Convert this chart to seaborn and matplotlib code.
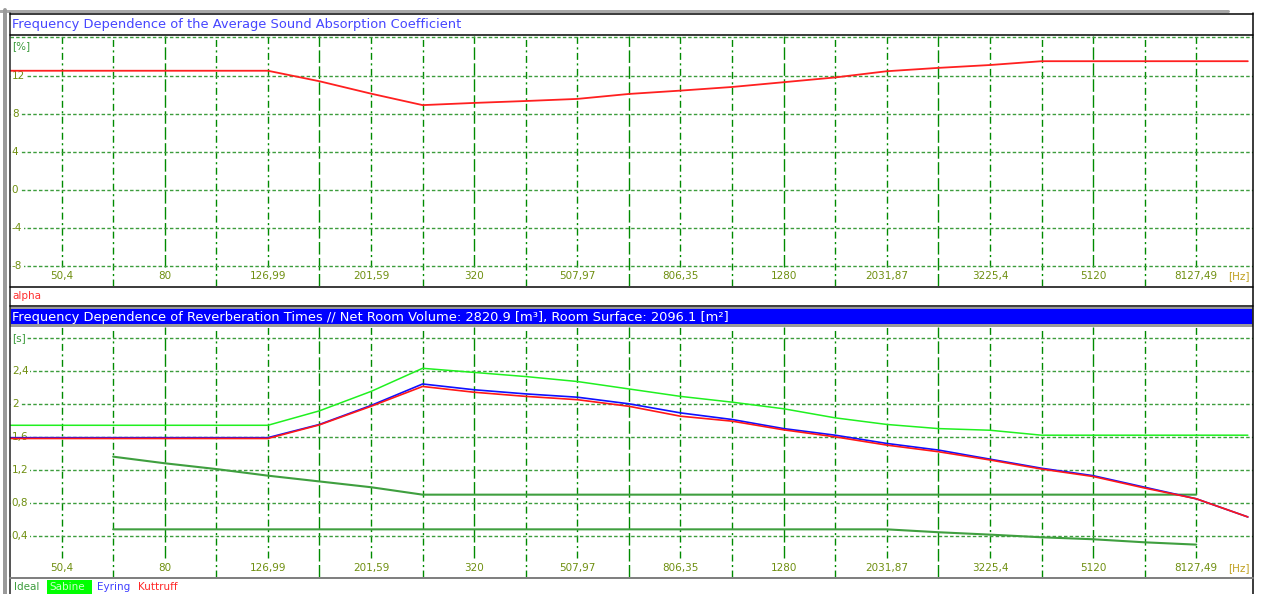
import matplotlib.pyplot as plt
import seaborn as sns
import pandas as pd
from matplotlib.patches import Rectangle

# 1/3-octave band centres [Hz]
freqs = [40, 50.4, 63.5, 80, 100.79, 126.99, 160, 201.59, 253.98, 320, 403.17, 507.97,
         640, 806.35, 1015.94, 1280, 1612.7, 2031.87, 2560, 3225.4, 4063.75, 5120,
         6450.8, 8127.49, 10240]

# average absorption coefficient [%]
alpha = [12.5, 12.5, 12.5, 12.5, 12.5, 12.5, 11.4, 10.1, 8.9, 9.13, 9.33, 9.55,
         10.07, 10.42, 10.8, 11.3, 11.8, 12.45, 12.8, 13.1, 13.5, 13.5, 13.5, 13.5, 13.5]

# reverberation times [s]
sabine = [1.74, 1.74, 1.74, 1.74, 1.74, 1.74, 1.915, 2.15, 2.43, 2.38, 2.33, 2.27,
          2.18, 2.09, 2.02, 1.94, 1.83, 1.75, 1.70, 1.68, 1.62, 1.62, 1.62, 1.62, 1.62]
eyring = [1.59, 1.59, 1.59, 1.59, 1.59, 1.59, 1.75, 1.98, 2.24, 2.17, 2.12, 2.08,
          2.0, 1.89, 1.81, 1.70, 1.62, 1.52, 1.44, 1.33, 1.22, 1.13, 0.99, 0.85, 0.63]
kuttruff = [1.58, 1.58, 1.58, 1.58, 1.58, 1.58, 1.745, 1.97, 2.21, 2.14, 2.09, 2.05,
            1.97, 1.85, 1.79, 1.685, 1.6, 1.50, 1.42, 1.32, 1.21, 1.12, 0.98, 0.85, 0.63]
ideal_hi = [None, None, 1.36, 1.28, 1.21, 1.13, 1.06, 0.99, 0.9, 0.9, 0.9, 0.9,
            0.9, 0.9, 0.9, 0.9, 0.9, 0.9, 0.9, 0.9, 0.9, 0.9, 0.9, 0.9, None]
ideal_lo = [None, None, 0.48, 0.48, 0.48, 0.48, 0.48, 0.48, 0.48, 0.48, 0.48, 0.48,
            0.48, 0.48, 0.48, 0.48, 0.48, 0.48, 0.445, 0.416, 0.384, 0.36, 0.323, 0.295, None]

x_labels = ['50,4', '80', '126,99', '201,59', '320', '507,97', '806,35', '1280',
            '2031,87', '3225,4', '5120', '8127,49']
top_yticks = [16, 12, 8, 4, 0, -4, -8]
top_ylabels = ['[%]', '12', '8', '4', '0', '-4', '-8']
bot_yticks = [2.8, 2.4, 2.0, 1.6, 1.2, 0.8, 0.4]
bot_ylabels = ['[s]', '2,4', '2', '1,6', '1,2', '0,8', '0,4']

df = pd.DataFrame({'f': freqs, 'alpha': alpha, 'sabine': sabine, 'eyring': eyring,
                   'kuttruff': kuttruff, 'ideal_hi': ideal_hi, 'ideal_lo': ideal_lo})
df = df.astype(float)

sns.set_style('white')
plt.rcParams['font.family'] = ['DejaVu Sans']

W, H = 1263, 594
fig = plt.figure(figsize=(W / 100, H / 100), dpi=100)


def box(l, t, r, b):
    return [l / W, 1 - b / H, (r - l) / W, (b - t) / H]


ax1 = fig.add_axes(box(10, 36, 1253, 286.5))
ax2 = fig.add_axes(box(10, 327, 1253, 577))

tick_col = '#6f8f10'
vcol = '#008a00'
hcol = '#3c9c3c'

for ax, yt, yl, ylim, xlab_y in [(ax1, top_yticks, top_ylabels, (-10.1, 16.14), 0.043),
                                  (ax2, bot_yticks, bot_ylabels, (-0.097, 2.93), 0.036)]:
    ax.set_xscale('log')
    ax.set_xlim(40, 10480)
    ax.set_ylim(*ylim)
    ax.tick_params(which='both', length=0, labelbottom=False, labelleft=False)
    for s in ax.spines.values():
        s.set_visible(False)
    # vertical grid: every 1/3 octave, octaves drawn in long dashes
    for k in range(1, 24):
        ls = (0, (9, 2.5)) if k % 3 == 0 else (0, (5, 2.5, 1.5, 2.5))
        ymin = 0.077 if k % 2 == 1 else 0
        ax.axvline(freqs[k], ymin=ymin, ymax=1, color=vcol, lw=1, ls=ls, zorder=1)
    for v, lab in zip(yt, yl):
        ax.axhline(v, color=hcol, lw=1, ls=(0, (2.5, 1.6)), zorder=1)
        if lab.startswith('['):
            if ax is ax1:
                ax.text(0.0015, v - 0.35, lab, transform=ax.get_yaxis_transform(),
                        ha='left', va='top', fontsize=7.5, color='#3a9a3a', zorder=2)
            else:
                ax.text(0.0015, v, lab, transform=ax.get_yaxis_transform(), ha='left',
                        va='center', fontsize=7.5, color='#3a9a3a', zorder=2,
                        bbox=dict(fc='white', ec='none', pad=1))
        else:
            ax.text(0.0015, v, lab, transform=ax.get_yaxis_transform(), ha='left',
                    va='center', fontsize=7.5, color=tick_col, zorder=2,
                    bbox=dict(fc='white', ec='none', pad=1))
    for k, lab in zip(range(1, 24, 2), x_labels):
        ax.text(freqs[k], xlab_y, lab, transform=ax.get_xaxis_transform(), ha='center',
                va='center', fontsize=7.5, color=tick_col, zorder=2)
    ax.text(0.997, xlab_y, '[Hz]', transform=ax.transAxes, ha='right', va='center',
            fontsize=7.5, color='#c0a020', zorder=2)

# curves
sns.lineplot(data=df, x='f', y='alpha', ax=ax1, color='#ff2020', lw=1.3, zorder=5)
sns.lineplot(data=df, x='f', y='ideal_hi', ax=ax2, color='#3f9f3f', lw=1.5, zorder=5)
sns.lineplot(data=df, x='f', y='ideal_lo', ax=ax2, color='#3f9f3f', lw=1.5, zorder=5)
sns.lineplot(data=df, x='f', y='sabine', ax=ax2, color='#20f020', lw=1.1, zorder=5)
sns.lineplot(data=df, x='f', y='eyring', ax=ax2, color='#1010ff', lw=1.2, zorder=5)
sns.lineplot(data=df, x='f', y='kuttruff', ax=ax2, color='#ff1818', lw=1.2, zorder=5)
for ax in (ax1, ax2):
    ax.set_xlabel('')
    ax.set_ylabel('')

# window chrome, drawn in pixel coordinates
ov = fig.add_axes([0, 0, 1, 1], zorder=5)
ov.set_xlim(0, W)
ov.set_ylim(H, 0)
ov.axis('off')
ov.patch.set_alpha(0)
px = 0.72
ov.plot([0, 1228], [10.5, 10.5], color='#a8a8a8', lw=3 * px)
ov.plot([4.5, 4.5], [10, H], color='#9a9a9a', lw=4 * px)
ov.plot([9.5, 9.5], [13, H], color='#202020', lw=1.5 * px)
ov.plot([1253, 1253], [13, H], color='black', lw=1.5 * px)
ov.plot([9.5, 1253], [13.5, 13.5], color='black', lw=1.5 * px)
ov.plot([9.5, 1253], [35, 35], color='black', lw=1.5 * px)
ov.plot([9.5, 1253], [286.5, 286.5], color='black', lw=1.5 * px)
ov.plot([9.5, 1253], [306, 306], color='black', lw=1.5 * px)
ov.add_patch(Rectangle((9.5, 307), 1243.5, 20, color='#9a9a9a', lw=0))
ov.add_patch(Rectangle((10.5, 309), 1241.5, 15, color='#0000ff', lw=0))
ov.plot([9.5, 1253], [577.5, 577.5], color='#808080', lw=2 * px)

ov.text(12, 24.5, 'Frequency Dependence of the Average Sound Absorption Coefficient',
        color='#4646ff', fontsize=9.4, ha='left', va='center')
ov.text(12, 317, 'Frequency Dependence of Reverberation Times // Net Room Volume: '
        '2820.9 [m\u00b3], Room Surface: 2096.1 [m\u00b2]',
        color='white', fontsize=9.4, ha='left', va='center')
ov.text(12, 296, 'alpha', color='#ff3030', fontsize=7.5, ha='left', va='center')

ov.add_patch(Rectangle((47, 579.5), 45, 14, color='#00ff00', lw=0))
ov.text(14, 587, 'Ideal', color='#3c9c3c', fontsize=7.5, ha='left', va='center')
ov.text(49, 587, 'Sabine', color='#c8ffc8', fontsize=7.5, ha='left', va='center')
ov.text(97, 587, 'Eyring', color='#4040ff', fontsize=7.5, ha='left', va='center')
ov.text(138, 587, 'Kuttruff', color='#ff2828', fontsize=7.5, ha='left', va='center')

fig.savefig('out.png', dpi=100)
